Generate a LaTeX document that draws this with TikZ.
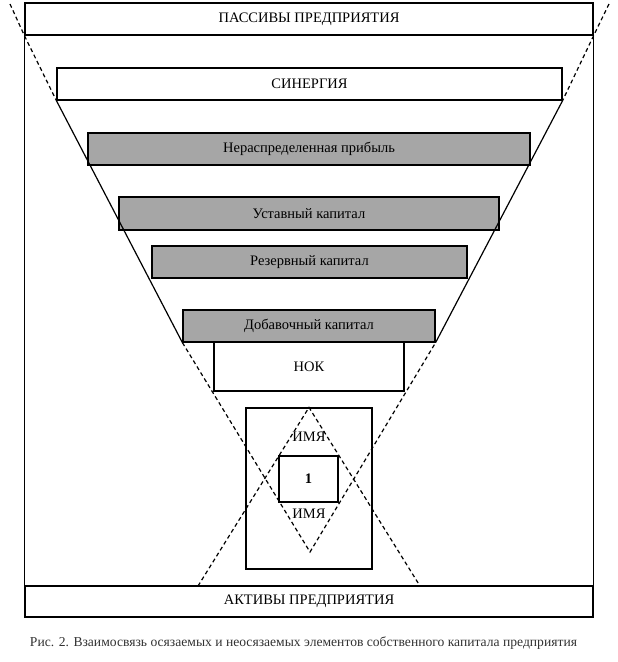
\documentclass[tikz,border=0pt]{standalone}
\usepackage{fontspec}
\setmainfont{Liberation Serif}
\begin{document}
\begin{tikzpicture}[x=1pt,y=-1pt,
  box/.style={draw, line width=1.2pt, inner sep=0pt, font=\fontsize{14.5}{16}\selectfont},
  wbox/.style={box, fill=white},
  gbox/.style={box, fill=grayfill},
  dsh/.style={line width=1.2pt, dash pattern=on 4pt off 3pt},
  sld/.style={line width=1.2pt},
  lbl/.style={inner sep=0pt, font=\fontsize{14.5}{16}\selectfont}]
\definecolor{grayfill}{RGB}{166,166,166}
\definecolor{capgray}{RGB}{50,50,50}
\useasboundingbox (0,0) rectangle (618,662);
% frame
\node[wbox, minimum width=568pt, minimum height=32pt] (pas) at (309,19) {ПАССИВЫ ПРЕДПРИЯТИЯ};
\node[wbox, minimum width=568pt, minimum height=31pt] (akt) at (309,601.5) {АКТИВЫ ПРЕДПРИЯТИЯ};
\draw[sld] (pas.south west) -- (akt.north west);
\draw[sld] (pas.south east) -- (akt.north east);
% layers
\node[wbox, minimum width=505pt, minimum height=32pt] (syn) at (309.5,84) {СИНЕРГИЯ};
\node[gbox, minimum width=442pt, minimum height=32pt] (ner) at (309,149) {Нераспределенная прибыль};
\node[gbox, minimum width=380pt, minimum height=33pt] (ust) at (309,213.5) {Уставный капитал};
\node[gbox, minimum width=315pt, minimum height=32pt] (rez) at (309.5,262) {Резервный капитал};
\node[gbox, minimum width=252pt, minimum height=32pt] (dob) at (309,326) {Добавочный капитал};
\node[wbox, minimum width=190pt, minimum height=49pt] (nok) at (309,366.5) {НОК};
\node[box, minimum width=126pt, minimum height=161pt] (big) at (309,488.5) {};
% free ends
\coordinate (tl) at (10,4);
\coordinate (tr) at (609,4);
\coordinate (vb) at (310,552);
\coordinate (bl) at (198,586);
\coordinate (br) at (420,586);
% funnel lines
\draw[dsh] (tl) -- (pas.south west) -- (syn.south west);
\draw[dsh] (tr) -- (pas.south east) -- (syn.south east);
\draw[sld] (syn.south west) -- (dob.south west);
\draw[sld] (syn.south east) -- (dob.south east);
\draw[dsh] (dob.south west) -- (vb) -- (dob.south east);
\draw[dsh] (bl) -- (big.north) -- (br);
% centre
\node[wbox, minimum width=59pt, minimum height=46pt, font=\fontsize{14.5}{16}\selectfont\bfseries] (one) at (308.5,479) {1};
\node[lbl] (n1) at (309,437) {ИМЯ};
\node[lbl] (n2) at (309,514) {ИМЯ};
% caption
\node[inner sep=0pt, text=capgray, font=\fontsize{13.6}{15}\selectfont] (cap) at (303.5,643) {Рис. 2. Взаимосвязь осязаемых и неосязаемых элементов собственного капитала предприятия};
\end{tikzpicture}
\end{document}
